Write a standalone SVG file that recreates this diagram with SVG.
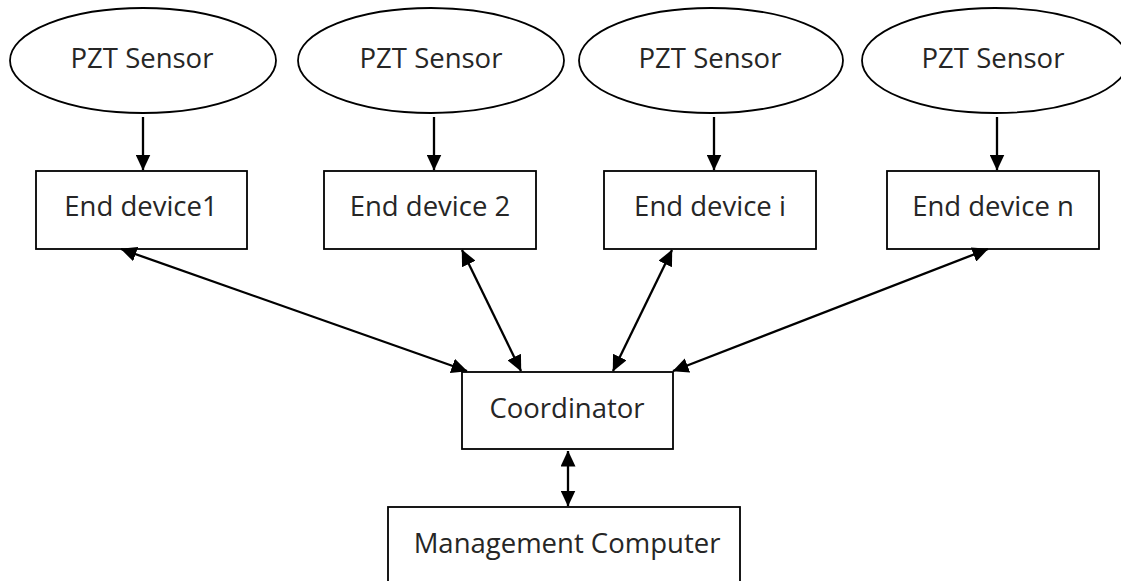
<svg xmlns="http://www.w3.org/2000/svg" width="1121" height="581" viewBox="0 0 1121 581">
<style>
.shape{fill:#fff;stroke:#000;stroke-width:1.8}
.lbl{font-family:"Open Sans","Liberation Sans",sans-serif;font-size:27.5px;fill:#262626;text-anchor:middle}
.conn{stroke:#000;stroke-width:2.3;fill:none}
</style>
<defs>
<marker id="ah" viewBox="0 0 16 15" refX="15.5" refY="7.5" markerWidth="16" markerHeight="15" markerUnits="userSpaceOnUse" orient="auto-start-reverse">
<path d="M0,0 L16,7.5 L0,15 z" fill="#000"/>
</marker>
</defs>
<rect width="1121" height="581" fill="#fff"/>
<g id="sensor1"><ellipse class="shape" cx="143" cy="60.5" rx="133" ry="52.5"/><text class="lbl" x="142" y="68">PZT Sensor</text></g>
<g id="sensor2"><ellipse class="shape" cx="431" cy="60.5" rx="133" ry="52.5"/><text class="lbl" x="431" y="68">PZT Sensor</text></g>
<g id="sensor3"><ellipse class="shape" cx="711" cy="60.5" rx="132" ry="52.5"/><text class="lbl" x="710" y="68">PZT Sensor</text></g>
<g id="sensor4"><ellipse class="shape" cx="995" cy="60.5" rx="133" ry="52.5"/><text class="lbl" x="993" y="68">PZT Sensor</text></g>
<g id="end1"><rect class="shape" x="36" y="171" width="211" height="78"/><text class="lbl" x="141" y="216">End device1</text></g>
<g id="end2"><rect class="shape" x="324" y="171" width="212" height="78"/><text class="lbl" x="430" y="216">End device 2</text></g>
<g id="endi"><rect class="shape" x="604" y="171" width="212" height="78"/><text class="lbl" x="710" y="216">End device i</text></g>
<g id="endn"><rect class="shape" x="887" y="171" width="212" height="78"/><text class="lbl" x="993" y="216">End device n</text></g>
<g id="coordinator"><rect class="shape" x="462" y="372" width="211" height="77"/><text class="lbl" x="567" y="418">Coordinator</text></g>
<g id="management"><rect class="shape" x="388" y="507" width="352" height="90"/><text class="lbl" x="567" y="553">Management Computer</text></g>
<g id="connectors">
<line class="conn" x1="143" y1="117" x2="143" y2="170" marker-end="url(#ah)"/>
<line class="conn" x1="434" y1="117" x2="434" y2="170" marker-end="url(#ah)"/>
<line class="conn" x1="714" y1="117" x2="714" y2="170" marker-end="url(#ah)"/>
<line class="conn" x1="997" y1="117" x2="997" y2="170" marker-end="url(#ah)"/>
<line class="conn" x1="121" y1="249" x2="467" y2="371" marker-start="url(#ah)" marker-end="url(#ah)"/>
<line class="conn" x1="462" y1="250" x2="521" y2="371" marker-start="url(#ah)" marker-end="url(#ah)"/>
<line class="conn" x1="672" y1="250" x2="613" y2="371" marker-start="url(#ah)" marker-end="url(#ah)"/>
<line class="conn" x1="988" y1="249" x2="673" y2="371" marker-start="url(#ah)" marker-end="url(#ah)"/>
<line class="conn" x1="568" y1="451" x2="568" y2="506" marker-start="url(#ah)" marker-end="url(#ah)"/>
</g>
</svg>
